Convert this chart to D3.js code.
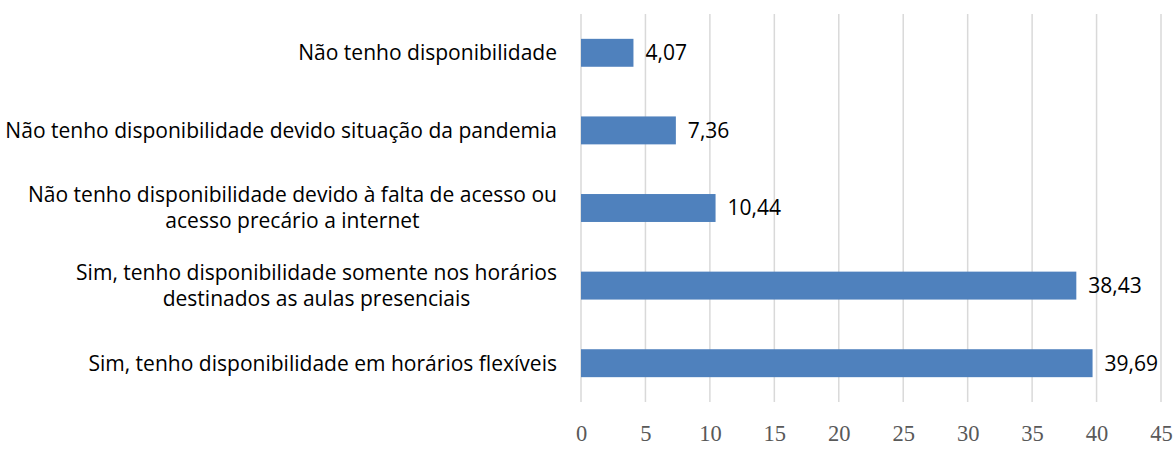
<!DOCTYPE html>
<html><head><meta charset="utf-8">
<script src="https://cdn.jsdelivr.net/npm/d3@7"></script>
<style>body{margin:0;background:#fff}</style>
</head><body>
<svg id="c" width="1174" height="452"></svg>
<script>
const categories = [
  "Não tenho disponibilidade",
  "Não tenho disponibilidade devido situação da pandemia",
  "Não tenho disponibilidade devido à falta de acesso ou\nacesso precário a internet",
  "Sim, tenho disponibilidade somente nos horários\ndestinados as aulas presenciais",
  "Sim, tenho disponibilidade em horários flexíveis"
];
const values = [4.07, 7.36, 10.44, 38.43, 39.69];
const valueLabels = ["4,07", "7,36", "10,44", "38,43", "39,69"];
const xTicks = [0, 5, 10, 15, 20, 25, 30, 35, 40, 45];

(function () {
const svg = d3.select("#c");
const pl = 581, pr = 1161, pt = 14, pb = 402;
const x = d3.scaleLinear().domain([0, 45]).range([pl, pr]);
const y = d3.scaleBand().domain(categories).range([pt, pb]).paddingInner(0.64).paddingOuter(0.32);

const labelFont = "'Open Sans', sans-serif";
// fit font size so the longest label line spans ~552px as in the reference
const probe = svg.append("text").attr("font-family", labelFont).attr("font-size", 20)
  .text("Não tenho disponibilidade devido situação da pandemia");
const fs = 20 * 552 / probe.node().getComputedTextLength();
probe.remove();

svg.append("g").selectAll("line").data(xTicks).join("line")
  .attr("x1", d => x(d)).attr("x2", d => x(d))
  .attr("y1", pt).attr("y2", pb)
  .attr("stroke", "#d9d9d9").attr("stroke-width", 1.5);

const xAxis = d3.axisBottom(x).tickValues(xTicks).tickSize(0).tickPadding(0);
const gx = svg.append("g").attr("transform", `translate(0,433)`).call(xAxis);
gx.select(".domain").remove();
gx.selectAll("text").attr("font-family", "'Liberation Serif', 'Times New Roman', serif")
  .attr("font-size", 22.5).attr("fill", "#595959").attr("y", 0).attr("dy", "0.35em");

svg.append("g").selectAll("rect").data(values).join("rect")
  .attr("x", x(0)).attr("y", (d, i) => y(categories[i]))
  .attr("width", d => x(d) - x(0)).attr("height", y.bandwidth())
  .attr("fill", "#4f81bd");

svg.append("g").selectAll("text").data(values).join("text")
  .attr("x", d => x(d) + 12).attr("y", (d, i) => y(categories[i]) + y.bandwidth() / 2)
  .attr("dy", "0.35em").attr("font-family", labelFont).attr("font-size", fs).attr("fill", "#000")
  .text((d, i) => valueLabels[i]);

const lineH = 26;
const catG = svg.append("g");
categories.forEach(c => {
  const lines = c.split("\n");
  const cy = y(c) + y.bandwidth() / 2;
  const g = catG.append("g");
  const texts = lines.map((ln, j) => g.append("text")
    .attr("y", cy + (j - (lines.length - 1) / 2) * lineH)
    .attr("dy", "0.35em").attr("font-family", labelFont).attr("font-size", fs).attr("fill", "#000")
    .text(ln));
  const widths = texts.map(t => t.node().getComputedTextLength());
  const maxW = Math.max(...widths);
  const cx = 557 - maxW / 2;
  texts.forEach(t => t.attr("x", cx).attr("text-anchor", "middle"));
});
})();
</script>
</body></html>
